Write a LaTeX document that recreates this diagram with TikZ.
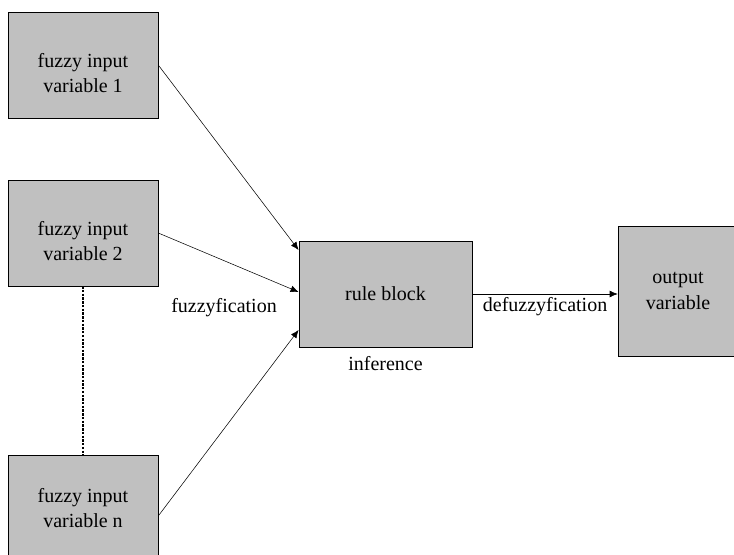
\documentclass[tikz,border=0pt]{standalone}
\usepackage{fontspec}
\setmainfont{Liberation Serif}
\usetikzlibrary{arrows.meta, positioning, calc}

\definecolor{boxgray}{RGB}{192,192,192}
\newcommand{\toppad}{\rule{0pt}{23pt}}

\begin{document}
\begin{tikzpicture}[
  x=0.75pt, y=-0.75pt,
  block/.style = {draw, fill=boxgray, minimum height=79.5pt, minimum width=112.5pt, align=center,
                  font=\fontsize{15}{19}\selectfont, inner sep=0pt},
  lbl/.style = {font=\fontsize{15}{19}\selectfont, inner sep=1pt},
  arrow/.style = {-{Latex[length=6pt, width=5pt]}}
]
\clip (0,0) rectangle (734,555);

% Input variables
\node[block] (in1) at (83,65)  {\toppad fuzzy input\\variable 1};
\node[block] (in2) at (83,233) {\toppad fuzzy input\\variable 2};
\node[block] (inn) at (83,508) {fuzzy input\\variable n};

% Rule block
\node[block, minimum width=130pt] (rule) at (385.5,294) {rule block};

% Output variable
\node[block, minimum width=90pt, minimum height=97.5pt] (out) at (678,291) {output\\variable};

% Labels
\node[lbl] (fuzz) at (224,308) {fuzzyfication};
\node[lbl, below=6pt of rule] (infer) {inference};

% Inputs to rule block
\draw[arrow] (in1.east) -- ([yshift=33pt]rule.west);
\draw[arrow] (in2.east) -- ([yshift=1.5pt]rule.west);
\draw[arrow] ([yshift=-6pt]inn.east) -- ([yshift=-27pt]rule.west);
\draw[densely dotted, line width=1.8pt] (in2.south) -- (inn.north);

% Rule block to output
\draw[arrow] (rule.east) -- node[lbl, below=1pt] (defuzz) {defuzzyfication} (rule.east -| out.west);

\end{tikzpicture}
\end{document}
